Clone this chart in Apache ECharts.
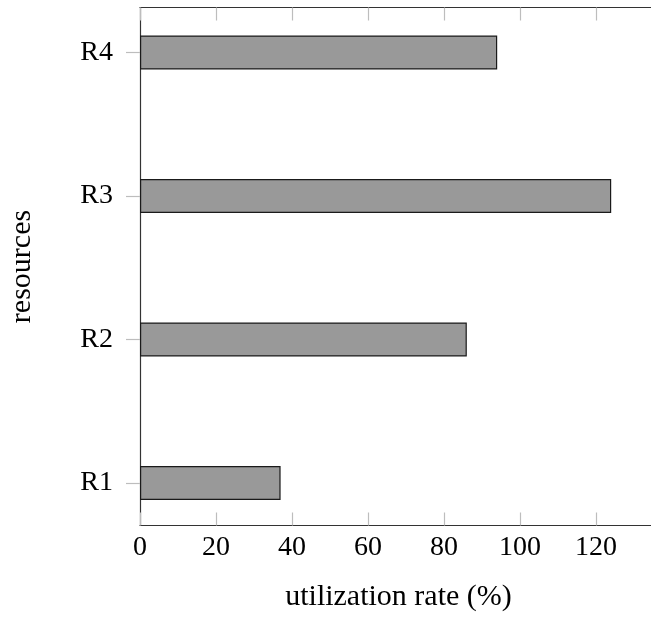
<!DOCTYPE html>
<html>
<head>
<meta charset="utf-8">
<script src="https://cdn.jsdelivr.net/npm/echarts@6/dist/echarts.min.js"></script>
<style>
html,body{margin:0;padding:0;background:#fff;overflow:hidden;}
#chart{width:651px;height:617px;}
</style>
</head>
<body>
<div id="chart"></div>
<script>
// data
const categories = ['R1', 'R2', 'R3', 'R4'];
const utilization = [37, 86, 124, 94];
const xTicks = [0, 20, 40, 60, 80, 100, 120, 140];
const xName = 'utilization rate (%)';
const yName = 'resources';

const FONT = '"Liberation Serif", "DejaVu Serif", serif';
const axisColor = '#333';
const tickColor = '#bdbdbd';

const chart = echarts.init(document.getElementById('chart'), null, {renderer: 'canvas'});
const option = {
  animation: false,
  backgroundColor: '#fff',
  grid: [
    {left: 140, top: 7.5, right: -21, bottom: 91.5, containLabel: false, outerBoundsMode: 'none'},
    {left: 140, top: -19.25, right: -21, bottom: 62.25, containLabel: false, outerBoundsMode: 'none'}
  ],
  xAxis: [
    {
      type: 'value', gridIndex: 0, position: 'bottom',
      min: xTicks[0], max: xTicks[xTicks.length - 1], interval: 20,
      axisLine: {show: true, lineStyle: {color: axisColor, width: 1.2}},
      axisTick: {show: true, inside: true, length: 13, lineStyle: {color: tickColor, width: 1.2}},
      axisLabel: {show: true, margin: 8, color: '#000', fontFamily: FONT, fontSize: 28},
      splitLine: {show: false},
      name: xName, nameLocation: 'middle', nameGap: 57,
      nameTextStyle: {color: '#000', fontFamily: FONT, fontSize: 30, padding: [0, 15, 0, 0]}
    },
    {
      type: 'value', gridIndex: 0, position: 'top',
      min: xTicks[0], max: xTicks[xTicks.length - 1], interval: 20,
      axisLine: {show: true, lineStyle: {color: axisColor, width: 1.2}},
      axisTick: {show: true, inside: true, length: 13, lineStyle: {color: tickColor, width: 1.2}},
      axisLabel: {show: false},
      splitLine: {show: false}
    },
    {
      type: 'value', gridIndex: 1, show: false,
      min: xTicks[0], max: xTicks[xTicks.length - 1]
    }
  ],
  yAxis: [
    {
      type: 'value', gridIndex: 0, position: 'left', min: 0, max: 1,
      axisLine: {show: true, lineStyle: {color: axisColor, width: 1.2}},
      axisTick: {show: false},
      axisLabel: {show: false},
      splitLine: {show: false},
      name: yName, nameLocation: 'middle', nameGap: 103, nameRotate: 90,
      nameTextStyle: {color: '#000', fontFamily: FONT, fontSize: 30}
    },
    {
      type: 'category', gridIndex: 1, data: categories,
      axisLine: {show: false},
      axisTick: {show: true, alignWithLabel: true, length: 14, lineStyle: {color: tickColor, width: 1.2}},
      axisLabel: {show: true, margin: 27, color: '#000', fontFamily: FONT, fontSize: 28},
      splitLine: {show: false}
    }
  ],
  series: [
    {
      type: 'bar', xAxisIndex: 2, yAxisIndex: 1,
      data: utilization,
      barWidth: 34,
      itemStyle: {color: '#999999', borderColor: '#1a1a1a', borderWidth: 1.2},
      z: 1
    }
  ]
};
chart.setOption(option);
</script>
</body>
</html>
